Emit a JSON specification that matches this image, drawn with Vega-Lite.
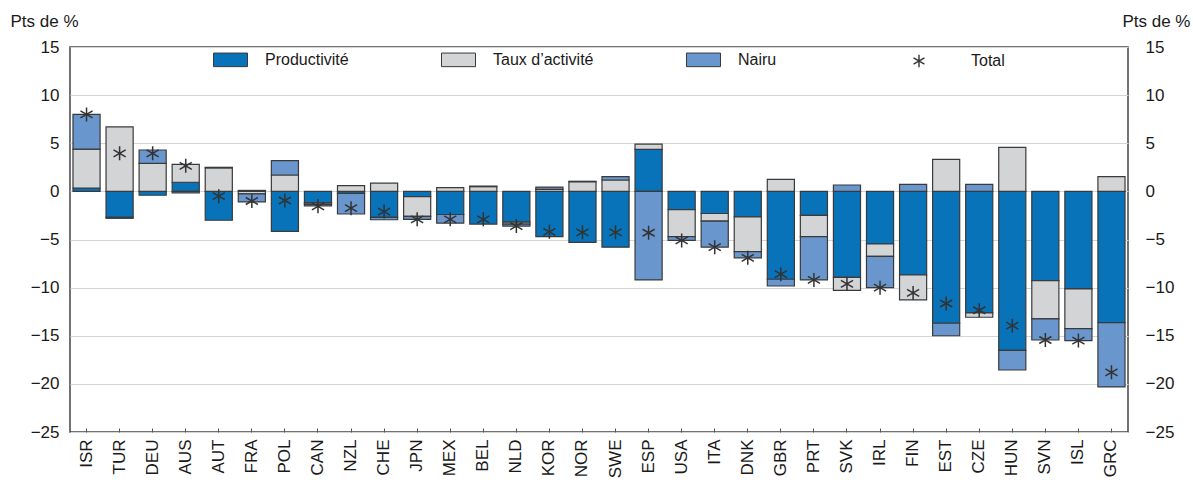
{
  "$schema": "https://vega.github.io/schema/vega-lite/v6.json",
  "width": 1058,
  "height": 385,
  "autosize": {"type": "none"},
  "padding": {"left": 70, "top": 47, "right": 65, "bottom": 68},
  "background": "white",
  "datasets": {
    "composantes": [
      {"pays": "ISR", "composante": "Productivité", "ordre": 1, "valeur": 0.35},
      {"pays": "ISR", "composante": "Taux d’activité", "ordre": 2, "valeur": 4.05},
      {"pays": "ISR", "composante": "Nairu", "ordre": 3, "valeur": 3.6},
      {"pays": "TUR", "composante": "Productivité", "ordre": 1, "valeur": -2.7},
      {"pays": "TUR", "composante": "Taux d’activité", "ordre": 2, "valeur": 6.7},
      {"pays": "TUR", "composante": "Nairu", "ordre": 3, "valeur": -0.1},
      {"pays": "DEU", "composante": "Productivité", "ordre": 1, "valeur": -0.4},
      {"pays": "DEU", "composante": "Taux d’activité", "ordre": 2, "valeur": 2.9},
      {"pays": "DEU", "composante": "Nairu", "ordre": 3, "valeur": 1.4},
      {"pays": "AUS", "composante": "Productivité", "ordre": 1, "valeur": 0.95},
      {"pays": "AUS", "composante": "Taux d’activité", "ordre": 2, "valeur": 1.85},
      {"pays": "AUS", "composante": "Nairu", "ordre": 3, "valeur": -0.15},
      {"pays": "AUT", "composante": "Productivité", "ordre": 1, "valeur": -3.0},
      {"pays": "AUT", "composante": "Taux d’activité", "ordre": 2, "valeur": 2.45},
      {"pays": "AUT", "composante": "Nairu", "ordre": 3, "valeur": 0.05},
      {"pays": "FRA", "composante": "Productivité", "ordre": 1, "valeur": 0.1},
      {"pays": "FRA", "composante": "Taux d’activité", "ordre": 2, "valeur": -0.25},
      {"pays": "FRA", "composante": "Nairu", "ordre": 3, "valeur": -0.85},
      {"pays": "POL", "composante": "Productivité", "ordre": 1, "valeur": -4.15},
      {"pays": "POL", "composante": "Taux d’activité", "ordre": 2, "valeur": 1.7},
      {"pays": "POL", "composante": "Nairu", "ordre": 3, "valeur": 1.5},
      {"pays": "CAN", "composante": "Productivité", "ordre": 1, "valeur": -1.2},
      {"pays": "CAN", "composante": "Taux d’activité", "ordre": 2, "valeur": -0.15},
      {"pays": "CAN", "composante": "Nairu", "ordre": 3, "valeur": -0.15},
      {"pays": "NZL", "composante": "Productivité", "ordre": 1, "valeur": -0.2},
      {"pays": "NZL", "composante": "Taux d’activité", "ordre": 2, "valeur": 0.6},
      {"pays": "NZL", "composante": "Nairu", "ordre": 3, "valeur": -2.15},
      {"pays": "CHE", "composante": "Productivité", "ordre": 1, "valeur": -2.7},
      {"pays": "CHE", "composante": "Taux d’activité", "ordre": 2, "valeur": 0.85},
      {"pays": "CHE", "composante": "Nairu", "ordre": 3, "valeur": -0.25},
      {"pays": "JPN", "composante": "Productivité", "ordre": 1, "valeur": -0.55},
      {"pays": "JPN", "composante": "Taux d’activité", "ordre": 2, "valeur": -2.05},
      {"pays": "JPN", "composante": "Nairu", "ordre": 3, "valeur": -0.3},
      {"pays": "MEX", "composante": "Productivité", "ordre": 1, "valeur": -2.4},
      {"pays": "MEX", "composante": "Taux d’activité", "ordre": 2, "valeur": 0.4},
      {"pays": "MEX", "composante": "Nairu", "ordre": 3, "valeur": -0.9},
      {"pays": "BEL", "composante": "Productivité", "ordre": 1, "valeur": -3.4},
      {"pays": "BEL", "composante": "Taux d’activité", "ordre": 2, "valeur": 0.5},
      {"pays": "BEL", "composante": "Nairu", "ordre": 3, "valeur": 0.05},
      {"pays": "NLD", "composante": "Productivité", "ordre": 1, "valeur": -3.2},
      {"pays": "NLD", "composante": "Taux d’activité", "ordre": 2, "valeur": -0.2},
      {"pays": "NLD", "composante": "Nairu", "ordre": 3, "valeur": -0.2},
      {"pays": "KOR", "composante": "Productivité", "ordre": 1, "valeur": -4.7},
      {"pays": "KOR", "composante": "Taux d’activité", "ordre": 2, "valeur": 0.2},
      {"pays": "KOR", "composante": "Nairu", "ordre": 3, "valeur": 0.25},
      {"pays": "NOR", "composante": "Productivité", "ordre": 1, "valeur": -5.3},
      {"pays": "NOR", "composante": "Taux d’activité", "ordre": 2, "valeur": 1.0},
      {"pays": "NOR", "composante": "Nairu", "ordre": 3, "valeur": 0.05},
      {"pays": "SWE", "composante": "Productivité", "ordre": 1, "valeur": -5.8},
      {"pays": "SWE", "composante": "Taux d’activité", "ordre": 2, "valeur": 1.18},
      {"pays": "SWE", "composante": "Nairu", "ordre": 3, "valeur": 0.35},
      {"pays": "ESP", "composante": "Productivité", "ordre": 1, "valeur": 4.37},
      {"pays": "ESP", "composante": "Taux d’activité", "ordre": 2, "valeur": 0.53},
      {"pays": "ESP", "composante": "Nairu", "ordre": 3, "valeur": -9.2},
      {"pays": "USA", "composante": "Productivité", "ordre": 1, "valeur": -1.9},
      {"pays": "USA", "composante": "Taux d’activité", "ordre": 2, "valeur": -2.8},
      {"pays": "USA", "composante": "Nairu", "ordre": 3, "valeur": -0.4},
      {"pays": "ITA", "composante": "Productivité", "ordre": 1, "valeur": -2.3},
      {"pays": "ITA", "composante": "Taux d’activité", "ordre": 2, "valeur": -0.8},
      {"pays": "ITA", "composante": "Nairu", "ordre": 3, "valeur": -2.7},
      {"pays": "DNK", "composante": "Productivité", "ordre": 1, "valeur": -2.65},
      {"pays": "DNK", "composante": "Taux d’activité", "ordre": 2, "valeur": -3.6},
      {"pays": "DNK", "composante": "Nairu", "ordre": 3, "valeur": -0.65},
      {"pays": "GBR", "composante": "Productivité", "ordre": 1, "valeur": -9.13},
      {"pays": "GBR", "composante": "Taux d’activité", "ordre": 2, "valeur": 1.25},
      {"pays": "GBR", "composante": "Nairu", "ordre": 3, "valeur": -0.7},
      {"pays": "PRT", "composante": "Productivité", "ordre": 1, "valeur": -2.5},
      {"pays": "PRT", "composante": "Taux d’activité", "ordre": 2, "valeur": -2.2},
      {"pays": "PRT", "composante": "Nairu", "ordre": 3, "valeur": -4.5},
      {"pays": "SVK", "composante": "Productivité", "ordre": 1, "valeur": -8.93},
      {"pays": "SVK", "composante": "Taux d’activité", "ordre": 2, "valeur": -1.35},
      {"pays": "SVK", "composante": "Nairu", "ordre": 3, "valeur": 0.66},
      {"pays": "IRL", "composante": "Productivité", "ordre": 1, "valeur": -5.47},
      {"pays": "IRL", "composante": "Taux d’activité", "ordre": 2, "valeur": -1.28},
      {"pays": "IRL", "composante": "Nairu", "ordre": 3, "valeur": -3.25},
      {"pays": "FIN", "composante": "Productivité", "ordre": 1, "valeur": -8.69},
      {"pays": "FIN", "composante": "Taux d’activité", "ordre": 2, "valeur": -2.59},
      {"pays": "FIN", "composante": "Nairu", "ordre": 3, "valeur": 0.73},
      {"pays": "EST", "composante": "Productivité", "ordre": 1, "valeur": -13.7},
      {"pays": "EST", "composante": "Taux d’activité", "ordre": 2, "valeur": 3.33},
      {"pays": "EST", "composante": "Nairu", "ordre": 3, "valeur": -1.3},
      {"pays": "CZE", "composante": "Productivité", "ordre": 1, "valeur": -12.63},
      {"pays": "CZE", "composante": "Taux d’activité", "ordre": 2, "valeur": -0.45},
      {"pays": "CZE", "composante": "Nairu", "ordre": 3, "valeur": 0.73},
      {"pays": "HUN", "composante": "Productivité", "ordre": 1, "valeur": -16.51},
      {"pays": "HUN", "composante": "Taux d’activité", "ordre": 2, "valeur": 4.58},
      {"pays": "HUN", "composante": "Nairu", "ordre": 3, "valeur": -2.05},
      {"pays": "SVN", "composante": "Productivité", "ordre": 1, "valeur": -9.27},
      {"pays": "SVN", "composante": "Taux d’activité", "ordre": 2, "valeur": -3.98},
      {"pays": "SVN", "composante": "Nairu", "ordre": 3, "valeur": -2.19},
      {"pays": "ISL", "composante": "Productivité", "ordre": 1, "valeur": -10.14},
      {"pays": "ISL", "composante": "Taux d’activité", "ordre": 2, "valeur": -4.12},
      {"pays": "ISL", "composante": "Nairu", "ordre": 3, "valeur": -1.24},
      {"pays": "GRC", "composante": "Productivité", "ordre": 1, "valeur": -13.64},
      {"pays": "GRC", "composante": "Taux d’activité", "ordre": 2, "valeur": 1.53},
      {"pays": "GRC", "composante": "Nairu", "ordre": 3, "valeur": -6.68}
    ],
    "totaux": [
      {"pays": "ISR", "total": 8.0},
      {"pays": "TUR", "total": 3.95},
      {"pays": "DEU", "total": 3.95},
      {"pays": "AUS", "total": 2.65},
      {"pays": "AUT", "total": -0.5},
      {"pays": "FRA", "total": -1.0},
      {"pays": "POL", "total": -0.95},
      {"pays": "CAN", "total": -1.55},
      {"pays": "NZL", "total": -1.75},
      {"pays": "CHE", "total": -2.1},
      {"pays": "JPN", "total": -2.9},
      {"pays": "MEX", "total": -2.9},
      {"pays": "BEL", "total": -2.9},
      {"pays": "NLD", "total": -3.6},
      {"pays": "KOR", "total": -4.2},
      {"pays": "NOR", "total": -4.25},
      {"pays": "SWE", "total": -4.25},
      {"pays": "ESP", "total": -4.3},
      {"pays": "USA", "total": -5.1},
      {"pays": "ITA", "total": -5.8},
      {"pays": "DNK", "total": -6.9},
      {"pays": "GBR", "total": -8.6},
      {"pays": "PRT", "total": -9.2},
      {"pays": "SVK", "total": -9.6},
      {"pays": "IRL", "total": -10.0},
      {"pays": "FIN", "total": -10.55},
      {"pays": "EST", "total": -11.65},
      {"pays": "CZE", "total": -12.35},
      {"pays": "HUN", "total": -13.95},
      {"pays": "SVN", "total": -15.44},
      {"pays": "ISL", "total": -15.5},
      {"pays": "GRC", "total": -18.8}
    ]
  },
  "layer": [
    {
      "data": {"name": "composantes"},
      "mark": {"type": "bar", "stroke": "#3a3a3a", "strokeWidth": 1.2},
      "encoding": {
        "x": {
          "field": "pays", "type": "nominal", "sort": null,
          "scale": {"paddingInner": 0.18, "paddingOuter": 0.09},
          "axis": {
            "title": null, "labelAngle": -90, "labelFontSize": 17, "labelPadding": 11,
            "tickSize": -4, "tickColor": "#555555", "tickWidth": 1, "domain": false,
            "labelColor": "#1a1a1a", "labelFont": "Liberation Sans"
          }
        },
        "y": {
          "field": "valeur", "type": "quantitative", "stack": "zero",
          "scale": {"domain": [-25, 15], "nice": false, "zero": false},
          "axis": {
            "orient": "left", "values": [-25, -20, -15, -10, -5, 0, 5, 10, 15],
            "title": "Pts de %", "titleAngle": 0, "titleX": -60, "titleY": -26,
            "titleAlign": "left", "titleBaseline": "middle", "titleFontSize": 17,
            "titleFontWeight": "normal", "titleFont": "Liberation Sans", "titleColor": "#1a1a1a",
            "labelFontSize": 17, "labelFont": "Liberation Sans", "labelColor": "#1a1a1a",
            "labelPadding": 11, "ticks": false, "tickSize": 0, "domain": false,
            "grid": true, "gridColor": "#d4d4d4", "gridWidth": 1
          }
        },
        "order": {"field": "ordre", "type": "quantitative", "sort": "ascending"},
        "color": {
          "field": "composante", "type": "nominal",
          "scale": {"domain": ["Productivité", "Taux d’activité", "Nairu"], "range": ["#0873b9", "#d3d4d6", "#6a96ce"]},
          "legend": {
            "orient": "none", "legendX": 143, "legendY": -5, "direction": "horizontal",
            "title": null, "values": ["Productivité", "Taux d’activité", "Nairu"],
            "symbolType": "M-1,-0.4H1V0.4H-1Z", "symbolSize": 1156,
            "symbolStrokeColor": "#3a3a3a", "symbolStrokeWidth": 1, "symbolOpacity": 1,
            "labelFontSize": 16, "labelFont": "Liberation Sans", "labelColor": "#1a1a1a",
            "labelOffset": 17, "columnPadding": 90, "padding": 0, "labelLimit": 300
          }
        }
      }
    },
    {
      "data": {"name": "totaux"},
      "mark": {"type": "point", "filled": false, "color": "#333333", "strokeWidth": 1.5, "size": 1600, "opacity": 1},
      "encoding": {
        "x": {"field": "pays", "type": "nominal", "sort": null},
        "y": {
          "field": "total", "type": "quantitative",
          "axis": {
            "orient": "right", "values": [-25, -20, -15, -10, -5, 0, 5, 10, 15],
            "title": "Pts de %", "titleAngle": 0, "titleX": 62, "titleY": -26,
            "titleAlign": "right", "titleBaseline": "middle", "titleFontSize": 17,
            "titleFontWeight": "normal", "titleFont": "Liberation Sans", "titleColor": "#1a1a1a",
            "labelFontSize": 17, "labelFont": "Liberation Sans", "labelColor": "#1a1a1a",
            "labelPadding": 17, "ticks": false, "tickSize": 0, "domain": false, "grid": false
          }
        },
        "shape": {
          "datum": "Total",
          "scale": {"domain": ["Total"], "range": ["M0,-0.35L0,0.35M-0.303,-0.175L0.303,0.175M-0.303,0.175L0.303,-0.175"]},
          "legend": {
            "orient": "none", "legendX": 830, "legendY": -5, "title": null,
            "symbolSize": 1300, "symbolStrokeColor": "#333333", "symbolStrokeWidth": 1.4,
            "symbolFillColor": "transparent", "labelFontSize": 16, "labelFont": "Liberation Sans",
            "labelColor": "#1a1a1a", "labelOffset": 33, "padding": 0
          }
        }
      }
    }
  ],
  "resolve": {"axis": {"y": "independent"}},
  "config": {
    "view": {"stroke": "#444444", "strokeWidth": 1.5},
    "font": "Liberation Sans"
  }
}
